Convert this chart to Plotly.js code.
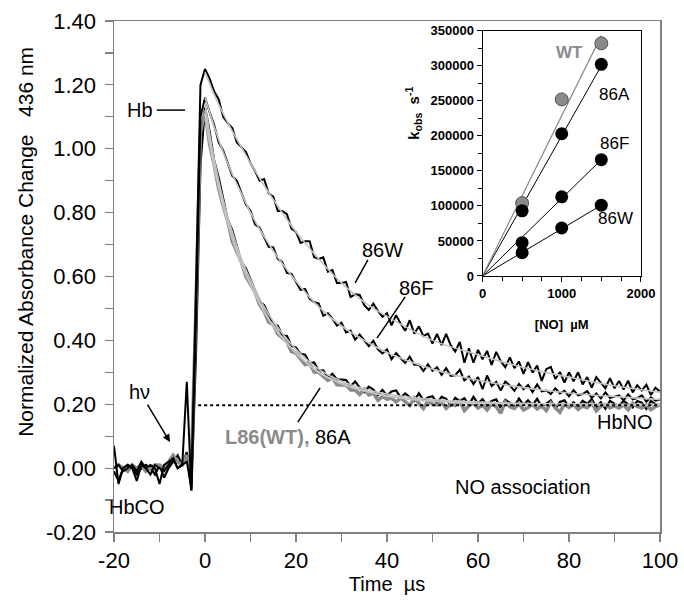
<!DOCTYPE html>
<html><head><meta charset="utf-8">
<script src="https://cdn.plot.ly/plotly-3.0.1.min.js"></script>
<style>html,body{margin:0;padding:0;background:#fff}#chart{width:684px;height:603px}</style>
</head><body><div id="chart"></div>
<script>
// ---- main panel: time grid (µs) ----
const tStart = -20, tEnd = 100;
const time = [];
for (let t = tStart; t <= tEnd; t++) time.push(t);

// noisy traces, one value per µs from -20 to 100
const trace86W = [
 0.07,-0.05,0.00,0.01,0.00,-0.04,0.01,0.00,0.01,0.00,-0.05,0.01,0.02,0.03,0.00,0.01,
 0.27,-0.07,0.55,1.20,1.25,
 1.22,1.18,1.155,1.10,1.08,1.065,1.02,1.005,0.99,0.955,
 0.93,0.90,0.905,0.86,0.85,0.805,0.805,0.795,0.75,0.74,
 0.705,0.71,0.71,0.66,0.655,0.66,0.615,0.62,0.58,0.58,
 0.583,0.536,0.544,0.542,0.51,0.495,0.515,0.492,0.474,0.485,
 0.447,0.479,0.452,0.43,0.463,0.421,0.444,0.413,0.421,0.39,
 0.42,0.385,0.42,0.385,0.365,0.395,0.33,0.375,0.33,0.37,
 0.341,0.367,0.323,0.364,0.335,0.316,0.347,0.313,0.334,0.295,
 0.332,0.299,0.321,0.273,0.31,0.317,0.279,0.301,0.268,0.30,
 0.272,0.30,0.262,0.285,0.252,0.285,0.267,0.25,0.282,0.25,
 0.273,0.246,0.274,0.237,0.26,0.243,0.261,0.229,0.252,0.24];
const trace86F = [
 0.00,0.01,-0.01,0.00,0.01,-0.01,0.02,0.00,-0.02,0.01,0.00,-0.01,0.01,0.03,0.00,0.01,
 0.02,-0.06,0.45,1.10,1.16,
 1.115,1.075,1.02,0.995,0.955,0.915,0.90,0.86,0.825,0.805,
 0.763,0.753,0.725,0.693,0.691,0.655,0.645,0.611,0.608,0.585,
 0.558,0.561,0.53,0.52,0.515,0.477,0.485,0.468,0.446,0.455,
 0.425,0.431,0.402,0.418,0.40,0.382,0.399,0.372,0.359,0.372,
 0.341,0.36,0.344,0.329,0.349,0.324,0.324,0.304,0.325,0.305,
 0.316,0.292,0.313,0.289,0.291,0.308,0.275,0.287,0.263,0.285,
 0.247,0.29,0.257,0.27,0.243,0.271,0.259,0.242,0.264,0.247,
 0.26,0.238,0.262,0.24,0.243,0.232,0.25,0.234,0.242,0.225,
 0.244,0.228,0.232,0.241,0.22,0.234,0.218,0.237,0.22,0.224,
 0.228,0.212,0.231,0.215,0.219,0.228,0.208,0.222,0.211,0.215];
const trace86A = [
 -0.01,-0.04,0.00,0.01,0.00,-0.02,0.00,0.01,0.00,-0.02,0.01,-0.03,0.00,0.02,0.04,0.01,
 0.05,-0.07,0.35,0.95,1.13,
 1.055,0.965,0.91,0.84,0.778,0.745,0.695,0.645,0.625,0.59,
 0.555,0.522,0.51,0.482,0.45,0.445,0.416,0.414,0.383,0.377,
 0.358,0.355,0.328,0.331,0.305,0.306,0.283,0.295,0.278,0.277,
 0.276,0.256,0.271,0.252,0.238,0.255,0.246,0.228,0.245,0.227,
 0.24,0.243,0.221,0.234,0.222,0.211,0.234,0.213,0.221,0.225,
 0.204,0.223,0.217,0.196,0.22,0.21,0.219,0.198,0.223,0.202,
 0.216,0.196,0.21,0.215,0.189,0.214,0.204,0.193,0.218,0.198,
 0.212,0.197,0.217,0.192,0.202,0.212,0.187,0.207,0.212,0.192,
 0.206,0.191,0.211,0.201,0.216,0.191,0.206,0.186,0.211,0.201,
 0.195,0.21,0.20,0.19,0.21,0.205,0.185,0.21,0.20,0.195];
const traceWT = [
 0.00,0.01,0.00,-0.01,0.01,0.00,0.01,-0.01,0.00,0.01,0.01,0.00,0.02,0.04,0.02,0.01,
 0.04,0.00,0.50,1.05,1.12,
 1.015,0.95,0.875,0.82,0.773,0.71,0.678,0.645,0.60,0.575,
 0.55,0.512,0.49,0.457,0.45,0.42,0.407,0.395,0.365,0.36,
 0.342,0.324,0.327,0.301,0.30,0.287,0.275,0.283,0.261,0.26,
 0.26,0.245,0.245,0.231,0.247,0.229,0.235,0.212,0.224,0.216,
 0.219,0.207,0.22,0.208,0.196,0.22,0.203,0.187,0.211,0.20,
 0.198,0.207,0.187,0.201,0.196,0.21,0.18,0.195,0.204,0.188,
 0.197,0.182,0.202,0.192,0.172,0.207,0.192,0.187,0.202,0.182,
 0.19,0.20,0.185,0.195,0.18,0.205,0.19,0.175,0.20,0.19,
 0.199,0.184,0.194,0.189,0.204,0.179,0.194,0.199,0.189,0.194,
 0.188,0.198,0.183,0.203,0.193,0.188,0.198,0.183,0.193,0.198];

// fitted curves (read at selected times)
const fitTime = [0,1,2,4,6,8,10,13,16,20,25,30,35,40,50,60,70,80,90,100];
const fit86W = [1.24,1.205,1.17,1.11,1.055,1.005,0.955,0.885,0.82,0.74,0.655,0.58,0.52,0.475,0.40,0.355,0.315,0.285,0.258,0.238];
const fit86F = [1.16,1.115,1.07,0.99,0.92,0.86,0.80,0.725,0.66,0.585,0.505,0.445,0.40,0.362,0.31,0.275,0.252,0.235,0.224,0.215];
const fit86A = [1.14,1.05,0.97,0.84,0.74,0.655,0.59,0.505,0.44,0.372,0.31,0.272,0.248,0.232,0.215,0.207,0.203,0.201,0.20,0.20];
const fitWT  = [1.11,1.02,0.945,0.82,0.72,0.64,0.575,0.49,0.425,0.36,0.30,0.265,0.242,0.226,0.21,0.203,0.20,0.199,0.198,0.198];

// HbNO end level (dotted)
const hbnoTime = [-1.5, 100];
const hbnoLevel = [0.197, 0.197];

// main axis ticks
const xTickVals = [-20,0,20,40,60,80,100];
const xTickText = ['-20','0','20','40','60','80','100'];
const yTickVals = [-0.2,0,0.2,0.4,0.6,0.8,1.0,1.2,1.4];
const yTickText = ['-0.20','0.00','0.20','0.40','0.60','0.80','1.00','1.20','1.40'];

// ---- inset: kobs vs [NO] ----
const noConc = [500, 1000, 1500];
const kWT  = [104000, 252000, 332000];
const k86A = [93000, 203000, 302000];
const k86F = [47500, 113000, 166000];
const k86W = [33300, 68500, 101000];
const lineX = [0, 1500];
const lineWT  = [0, 343000];
const line86A = [0, 300000];
const line86F = [0, 166000];
const line86W = [0, 101000];
const insetYTicks = [0,50000,100000,150000,200000,250000,300000,350000];
const insetYText = ['0','50000','100000','150000','200000','250000','300000','350000'];
const insetXTicks = [0,1000,2000];
const insetXText = ['0','1000','2000'];

const BLACK = '#000000', GRAY = '#8a8a8a', FIT = '#c4c4c4', AXG = '#808080';
const FONT = 'Liberation Sans, Arial, sans-serif';

const data = [
  {x: time, y: trace86A, mode:'lines', line:{color:BLACK, width:2.2}, xaxis:'x', yaxis:'y'},
  {x: time, y: traceWT, mode:'lines', line:{color:GRAY, width:3.5}, xaxis:'x', yaxis:'y'},
  {x: time, y: trace86F, mode:'lines', line:{color:BLACK, width:2}, xaxis:'x', yaxis:'y'},
  {x: time, y: trace86W, mode:'lines', line:{color:BLACK, width:2}, xaxis:'x', yaxis:'y'},
  {x: fitTime, y: fitWT, mode:'lines', line:{color:FIT, width:2, shape:'spline'}, xaxis:'x', yaxis:'y'},
  {x: fitTime, y: fit86A, mode:'lines', line:{color:FIT, width:1.6, shape:'spline'}, xaxis:'x', yaxis:'y'},
  {x: fitTime, y: fit86F, mode:'lines', line:{color:FIT, width:1.6, shape:'spline'}, xaxis:'x', yaxis:'y'},
  {x: fitTime, y: fit86W, mode:'lines', line:{color:FIT, width:1.6, shape:'spline'}, xaxis:'x', yaxis:'y'},
  {x: hbnoTime, y: hbnoLevel, mode:'lines', line:{color:BLACK, width:2, dash:'dot'}, xaxis:'x', yaxis:'y'},
  // inset
  {x: lineX, y: line86W, mode:'lines', line:{color:BLACK, width:1}, xaxis:'x2', yaxis:'y2'},
  {x: lineX, y: line86F, mode:'lines', line:{color:BLACK, width:1}, xaxis:'x2', yaxis:'y2'},
  {x: lineX, y: line86A, mode:'lines', line:{color:BLACK, width:1}, xaxis:'x2', yaxis:'y2'},
  {x: lineX, y: lineWT, mode:'lines', line:{color:GRAY, width:1.2}, xaxis:'x2', yaxis:'y2'},
  {x: noConc, y: kWT, mode:'markers', marker:{size:13, color:GRAY, line:{color:'#555', width:1}}, xaxis:'x2', yaxis:'y2'},
  {x: noConc, y: k86A, mode:'markers', marker:{size:13, color:BLACK}, xaxis:'x2', yaxis:'y2'},
  {x: noConc, y: k86F, mode:'markers', marker:{size:13, color:BLACK}, xaxis:'x2', yaxis:'y2'},
  {x: noConc, y: k86W, mode:'markers', marker:{size:13, color:BLACK}, xaxis:'x2', yaxis:'y2'}
];

const ann = (x, y, text, o) => Object.assign({x, y, text, xref:'x', yref:'y', showarrow:false,
  font:{family:FONT, size:20, color:BLACK}}, o || {});

const layout = {
  width: 684, height: 603,
  margin: {l:114, r:24, t:21, b:71},
  paper_bgcolor:'#fff', plot_bgcolor:'#fff',
  showlegend: false,
  font: {family: FONT, color: BLACK},
  xaxis: {
    range:[-20,100], tickvals:xTickVals, ticktext:xTickText,
    ticks:'outside', ticklen:8, tickwidth:1.2, tickcolor:AXG,
    minor:{dtick:10, tick0:0, ticks:'outside', ticklen:8, tickcolor:AXG, tickwidth:1.2},
    showline:true, linecolor:AXG, linewidth:1.5, mirror:true,
    showgrid:false, zeroline:false,
    tickfont:{size:22, family:FONT},
    title:{text:'Time  µs', font:{size:20, family:FONT}, standoff:4}
  },
  yaxis: {
    range:[-0.2,1.4], tickvals:yTickVals, ticktext:yTickText,
    ticks:'outside', ticklen:8, tickwidth:1.2, tickcolor:AXG,
    minor:{dtick:0.1, tick0:0, ticks:'outside', ticklen:8, tickcolor:AXG, tickwidth:1.2},
    showline:true, linecolor:AXG, linewidth:1.5, mirror:true,
    showgrid:false, zeroline:false, ticklabelstandoff:4,
    tickfont:{size:22, family:FONT}
  },
  xaxis2: {
    domain:[0.675,0.965], anchor:'y2', range:[0,2000],
    tickvals:insetXTicks, ticktext:insetXText,
    ticks:'outside', ticklen:5, tickcolor:BLACK,
    minor:{dtick:250, ticks:'outside', ticklen:4, tickcolor:BLACK},
    showline:true, linecolor:BLACK, linewidth:1, mirror:true,
    showgrid:false, zeroline:false,
    tickfont:{size:13, family:FONT, weight:700},
    title:{text:'[NO]  µM', font:{size:13, family:FONT, weight:700}, standoff:20}
  },
  yaxis2: {
    domain:[0.501,0.981], anchor:'x2', range:[0,350000],
    tickvals:insetYTicks, ticktext:insetYText,
    ticks:'outside', ticklen:5, tickcolor:BLACK,
    minor:{dtick:25000, ticks:'outside', ticklen:4, tickcolor:BLACK},
    showline:true, linecolor:BLACK, linewidth:1, mirror:true,
    showgrid:false, zeroline:false,
    tickfont:{size:13, family:FONT, weight:700}
  },
  shapes: [
    {type:'line', xref:'x', yref:'y', x0:-10.6, x1:-4.4, y0:1.121, y1:1.121, line:{color:BLACK, width:1.5}},
    {type:'line', xref:'x', yref:'y', x0:35.8, x1:33.0, y0:0.652, y1:0.58, line:{color:BLACK, width:1.5}},
    {type:'line', xref:'x', yref:'y', x0:44.0, x1:37.8, y0:0.536, y1:0.407, line:{color:BLACK, width:1.5}},
    {type:'line', xref:'x', yref:'y', x0:20.4, x1:25.3, y0:0.144, y1:0.251, line:{color:BLACK, width:1.5}}
  ],
  annotations: [
    {x:-0.162, y:0.567, xref:'paper', yref:'paper', xanchor:'center', yanchor:'middle',
      text:'Normalized Absorbance Change   436 nm',
      textangle:-90, showarrow:false, font:{family:FONT, size:21, color:BLACK}},
    ann(-14.3, 1.121, 'Hb'),
    {x:-7.7, y:0.082, ax:-14.3, ay:0.238, xref:'x', yref:'y', axref:'x', ayref:'y', text:'hν',
      showarrow:true, arrowhead:2, arrowsize:1, arrowwidth:1.5, arrowcolor:BLACK,
      font:{family:FONT, size:20, color:BLACK}},
    ann(-14.9, -0.122, 'HbCO'),
    ann(18.2, 0.097, '<span style="color:#8a8a8a"><b>L86(WT),</b></span> 86A'),
    ann(39.1, 0.683, '86W'),
    ann(46.4, 0.564, '86F'),
    ann(98.9, 0.144, 'HbNO', {xanchor:'right'}),
    ann(85.3, -0.059, 'NO association', {xanchor:'right'}),
    // inset labels
    {x:1103, y:319500, xref:'x2', yref:'y2', text:'<b>WT</b>', showarrow:false, font:{family:FONT, size:17, color:GRAY}},
    {x:1671, y:259600, xref:'x2', yref:'y2', text:'86A', showarrow:false, font:{family:FONT, size:17, color:BLACK}},
    {x:1671, y:189700, xref:'x2', yref:'y2', text:'86F', showarrow:false, font:{family:FONT, size:17, color:BLACK}},
    {x:1684, y:82700, xref:'x2', yref:'y2', text:'86W', showarrow:false, font:{family:FONT, size:17, color:BLACK}},
    {x:0.549, y:0.82, xref:'paper', yref:'paper', xanchor:'center', yanchor:'middle',
      text:'<b>k<sub>obs</sub>  s<sup>-1</sup></b>', textangle:-90,
      showarrow:false, font:{family:FONT, size:15, color:BLACK}}
  ]
};

Plotly.newPlot('chart', data, layout, {displayModeBar:false, staticPlot:true});
</script>
</body></html>
